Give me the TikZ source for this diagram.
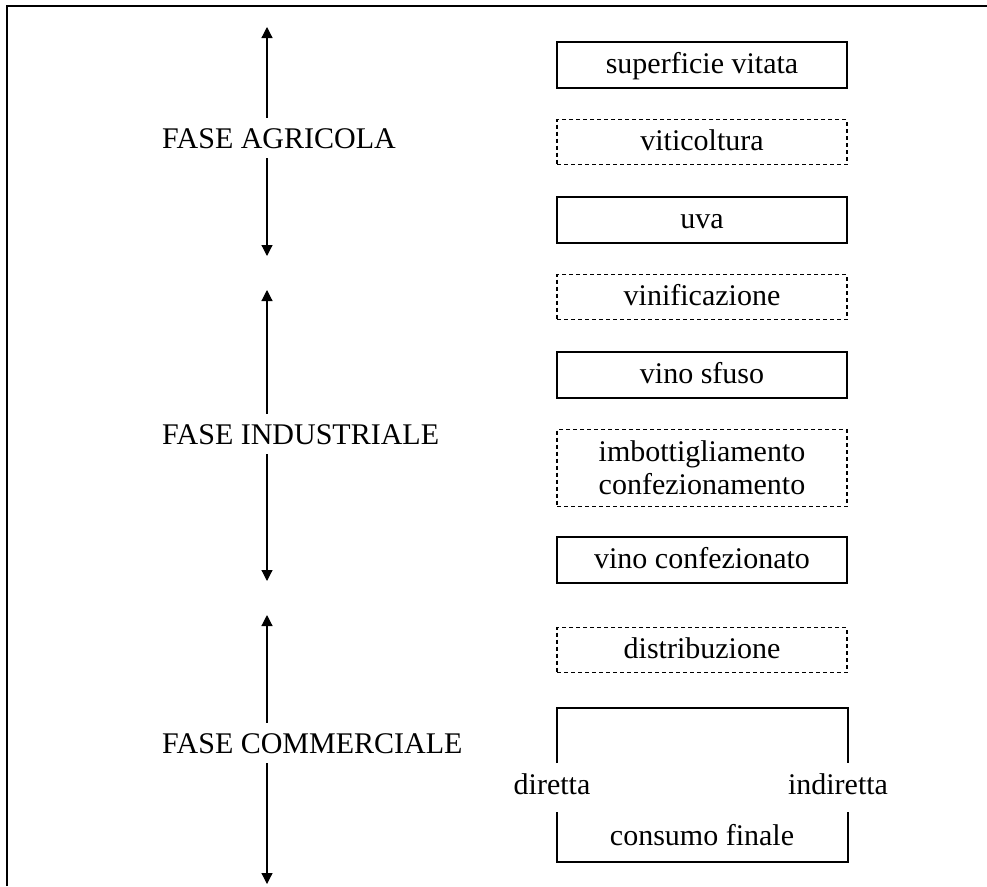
\documentclass[tikz,border=0pt]{standalone}
\usepackage{fontspec}
\setmainfont{Liberation Serif}
\usetikzlibrary{arrows.meta}
\begin{document}
\begin{tikzpicture}[x=1pt,y=-1pt,
  basefont/.style={font=\fontsize{30}{33}\selectfont, inner sep=0pt},
  txt/.style={basefont, text height=22pt, text depth=5pt},
  boxline/.style={draw, line width=1.5pt, minimum width=290pt},
  solidbox/.style={txt, boxline, minimum height=46pt},
  dashbox/.style={txt, boxline, dash pattern=on 4pt off 3pt, minimum height=45pt},
  dashtwoline/.style={basefont, boxline, dash pattern=on 4pt off 3pt, minimum height=77pt, align=center},
  phase/.style={font=\fontsize{30}{33}\selectfont, anchor=west, inner xsep=0pt, inner ysep=10pt, text height=20pt, text depth=0pt},
  phasearrow/.style={line width=1.2pt, -{Triangle[length=11pt,width=11pt]}},
  frameline/.style={line width=2pt}
]
\useasboundingbox (0,0) rectangle (987,886);
% frame
\coordinate (fl) at (7,6);
\coordinate (fr) at (987,6);
\coordinate (fb) at (7,886);
\draw[frameline] (fb) -- (fl) -- (fr);

% boxes
\node[solidbox] (sup) at (702,65) {superficie vitata};
\node[dashbox]  (vit) at (702,142) {viticoltura};
\node[solidbox] (uva) at (702,220) {uva};
\node[dashbox]  (vin) at (702,297) {vinificazione};
\node[solidbox] (sfu) at (702,375) {vino sfuso};
\node[dashtwoline] (imb) at (702,468) {\raisebox{-3pt}{\parbox{250pt}{\centering imbottigliamento\\confezionamento}}};
\node[solidbox] (con) at (702,560) {vino confezionato};
\node[dashbox]  (dis) at (702,650) {distribuzione};

% consumo finale open box
\node[txt] (cf) at (702,837) {consumo finale};
\node[txt] (dir) at (552,786) {diretta};
\node[txt] (ind) at (838,786) {indiretta};
\coordinate (c1) at (557,763);
\coordinate (c2) at (557,708);
\coordinate (c3) at (848,708);
\coordinate (c4) at (848,763);
\coordinate (c5) at (557,812);
\coordinate (c6) at (557,862);
\coordinate (c7) at (848,862);
\coordinate (c8) at (848,812);
\draw[line width=1.5pt] (c1) -- (c2) -- (c3) -- (c4);
\draw[line width=1.5pt] (c5) -- (c6) -- (c7) -- (c8);

% phases
\node[phase] (pa) at (162,138) {FASE AGRICOLA};
\node[phase] (pi) at (162,434) {FASE INDUSTRIALE};
\node[phase] (pc) at (162,743) {FASE COMMERCIALE};

\coordinate (at) at (267,27);
\coordinate (ab) at (267,256);
\coordinate (it) at (267,290);
\coordinate (ib) at (267,581);
\coordinate (ct) at (267,615);
\coordinate (cb) at (267,884);

\draw[phasearrow] (pa.north -| at) -- (at);
\draw[phasearrow] (pa.south -| at) -- (ab);
\draw[phasearrow] (pi.north -| it) -- (it);
\draw[phasearrow] (pi.south -| it) -- (ib);
\draw[phasearrow] (pc.north -| ct) -- (ct);
\draw[phasearrow] (pc.south -| ct) -- (cb);
\end{tikzpicture}
\end{document}
